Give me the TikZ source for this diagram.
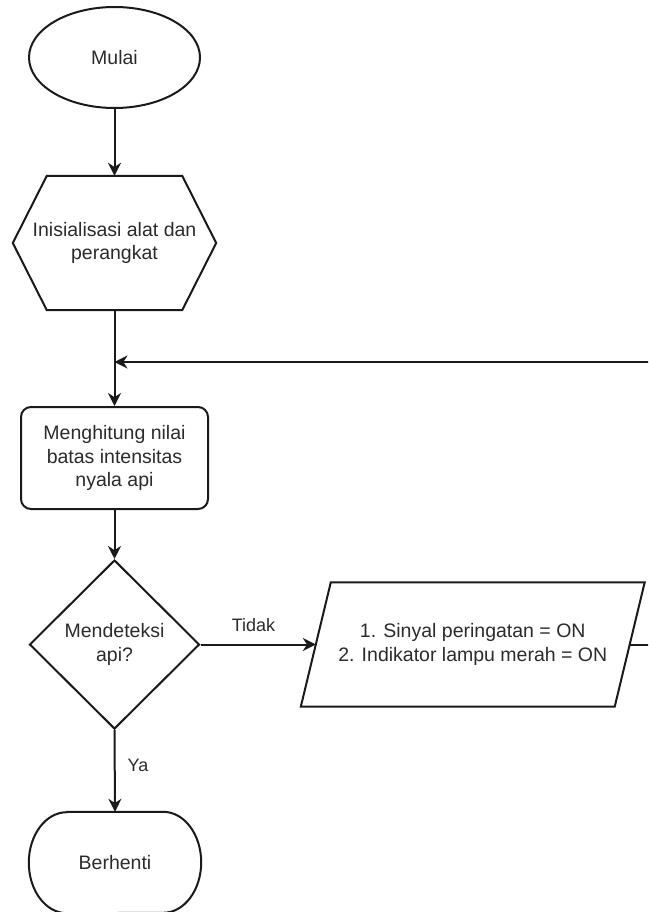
\documentclass[tikz,border=0pt]{standalone}
\usepackage{fontspec}
\setmainfont{Liberation Sans}
\usetikzlibrary{shapes.geometric,arrows.meta}
\definecolor{garis}{HTML}{1A1A1A}
\definecolor{teks}{HTML}{2B2B2B}

\begin{document}
\begin{tikzpicture}[x=1pt, y=1pt,
      every node/.style={font=\fontsize{19.5}{23.5}\selectfont, text=teks, align=center, inner sep=0pt},
      garis/.style={draw=garis, line width=2pt},
      panah/.style={garis, -{Stealth[length=13pt,width=13pt]}},
      ket/.style={font=\fontsize{18}{22}\selectfont}]
         \useasboundingbox (0,0) rectangle (648,-912);
         \clip (0,0) rectangle (648,-912);

         \node[ellipse, garis, minimum width=171pt, minimum height=101pt] 
                     (mulai) at (114.5,-57.5) {Mulai};
         \node[minimum width=203pt, minimum height=134pt] 
                     (inisial) at (114.5,-243) {Inisialisasi alat dan\\perangkat};
         \draw[garis] (inisial.west) -- ([xshift=34pt]inisial.north west) 
                     -- ([xshift=-34pt]inisial.north east) -- (inisial.east) 
                     -- ([xshift=-34pt]inisial.south east) -- ([xshift=34pt]inisial.south west) -- cycle;
         \node[garis, rounded corners=10pt, minimum width=187pt, minimum height=102pt] 
                     (hitung) at (114.5,-458) {Menghitung nilai\\batas intensitas\\nyala api};
         \node[diamond, aspect=1, garis, minimum width=170pt, minimum height=169pt] 
                     (deteksi) at (114.5,-644.5) {Mendeteksi\\api?};
         \node[minimum width=313.5pt, minimum height=124pt] 
                     (sinyal) at (472.75,-644.5) {1. Sinyal peringatan = ON\\2. Indikator lampu merah = ON};
         \draw[garis] ([xshift=-15pt]sinyal.south west) -- ([xshift=15pt]sinyal.north west) 
                     -- ([xshift=15pt]sinyal.north east) -- ([xshift=-15pt]sinyal.south east) -- cycle;
         \node[minimum width=172pt, minimum height=101pt] 
                     (berhenti) at (115,-862.5) {Berhenti};
         \draw[garis] ([xshift=38pt]berhenti.north west) -- ([xshift=-38pt]berhenti.north east) 
                     arc[start angle=90, end angle=-90, x radius=38pt, y radius=50.5pt] 
                     -- ([xshift=38pt]berhenti.south west) 
                     arc[start angle=270, end angle=90, x radius=38pt, y radius=50.5pt] -- cycle;

         \coordinate (gabung) at (114.5,-362);
         \coordinate (kanan) at (680,-644.5);
         \draw[panah] (mulai) -- (inisial);
         \draw[panah] (inisial) -- (hitung);
         \draw[panah] (hitung) -- (deteksi);
         \draw[panah] (deteksi.south) -- node[ket, right=12pt, pos=0.43]{Ya} (berhenti.north);
         \draw[panah] (deteksi.east) -- node[ket, above=12pt, pos=0.46]{Tidak} (sinyal.west);
         \draw[panah] (sinyal.east) -- (kanan) |- (gabung);
      \end{tikzpicture}
\end{document}
